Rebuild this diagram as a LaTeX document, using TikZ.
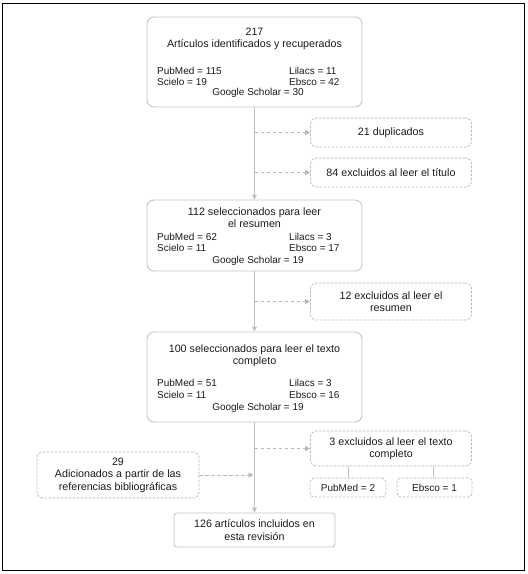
\documentclass[tikz,border=0pt]{standalone}
\usepackage{fontspec}
\setmainfont{Liberation Sans}
\usetikzlibrary{arrows.meta}
\definecolor{boxgray}{HTML}{C4C4C4}
\definecolor{linegray}{HTML}{C0C0C0}
\definecolor{dashgray}{HTML}{B8B8B8}
\definecolor{txt}{HTML}{1A1A1A}
\begin{document}
\begin{tikzpicture}[x=1pt,y=-1pt,
  mainbox/.style={draw=boxgray, line width=0.9pt, rounded corners=7pt, inner sep=0pt},
  finbox/.style={draw=boxgray, line width=0.9pt, rounded corners=3pt, inner sep=0pt, align=center, font=\ttlfont, text=txt},
  sidebox/.style={draw=dashgray, line width=0.8pt, dash pattern=on 2.5pt off 1.5pt, rounded corners=6pt, inner sep=0pt, align=center, font=\ttlfont, text=txt},
  smallbox/.style={draw=dashgray, line width=0.8pt, dash pattern=on 2.5pt off 1.5pt, rounded corners=4pt, inner sep=0pt, align=center, font=\smlfont, text=txt},
  ttl/.style={anchor=base, inner sep=0pt, font=\ttlfont, text=txt},
  lcol/.style={anchor=base west, inner sep=0pt, font=\smlfont, text=txt},
  ccol/.style={anchor=base, inner sep=0pt, font=\smlfont, text=txt},
  mainarrow/.style={draw=linegray, line width=1.3pt, -{Triangle[length=5pt,width=5pt]}},
  dasharrow/.style={draw=dashgray, line width=0.9pt, dash pattern=on 3.5pt off 2.5pt, -{Triangle[length=5pt,width=5pt]}},
  thinline/.style={draw=linegray, line width=0.9pt}
]
\newcommand{\ttlfont}{\fontsize{10.7}{12.5}\selectfont}
\newcommand{\smlfont}{\fontsize{10}{11}\selectfont}
\useasboundingbox (0,0) rectangle (528,574);
\draw[black, line width=1.3pt] (2.5,3.5) rectangle (524.5,570.5);

% box 1
\node[mainbox, minimum width=215pt, minimum height=90pt] (b1) at (254.5,62) {};
\node[ttl] (b1a) at (254.5,35.5) {217};
\node[ttl] (b1b) at (254.5,47) {Artículos identificados y recuperados};
\node[lcol] (b1c) at (157,74.5) {PubMed = 115};
\node[lcol] (b1d) at (289,74.5) {Lilacs = 11};
\node[lcol] (b1e) at (157,85.3) {Scielo = 19};
\node[lcol] (b1f) at (289,85.3) {Ebsco = 42};
\node[ccol] (b1g) at (258,95.8) {Google Scholar = 30};

% side boxes 1,2
\node[sidebox, minimum width=161pt, minimum height=29pt] (d1) at (391,132.5) {21 duplicados};
\node[sidebox, minimum width=161pt, minimum height=29pt] (d2) at (391,172.5) {84 excluidos al leer el título};

% box 2
\node[mainbox, minimum width=215pt, minimum height=71pt] (b2) at (254.5,235.5) {};
\node[ttl] (b2a) at (254.5,215.8) {112 seleccionados para leer};
\node[ttl] (b2b) at (254.5,227.8) {el resumen};
\node[lcol] (b2c) at (157,240.5) {PubMed = 62};
\node[lcol] (b2d) at (289,240.5) {Lilacs = 3};
\node[lcol] (b2e) at (157,251.5) {Scielo = 11};
\node[lcol] (b2f) at (289,251.5) {Ebsco = 17};
\node[ccol] (b2g) at (258,263.3) {Google Scholar = 19};

% side box 3
\node[sidebox, minimum width=161pt, minimum height=37pt] (d3) at (391,301.5) {12 excluidos al leer el\\resumen};

% box 3
\node[mainbox, minimum width=215pt, minimum height=90pt] (b3) at (254.5,377) {};
\node[ttl] (b3a) at (254.5,352.5) {100 seleccionados para leer el texto};
\node[ttl] (b3b) at (254.5,364.5) {completo};
\node[lcol] (b3c) at (157,386.5) {PubMed = 51};
\node[lcol] (b3d) at (289,386.5) {Lilacs = 3};
\node[lcol] (b3e) at (157,398.3) {Scielo = 11};
\node[lcol] (b3f) at (289,398.3) {Ebsco = 16};
\node[ccol] (b3g) at (258,410.3) {Google Scholar = 19};

% side box 4 and its sub boxes
\node[sidebox, minimum width=161pt, minimum height=35pt] (d4) at (391,448.5) {3 excluidos al leer el texto\\completo};
\node[smallbox, minimum width=76pt, minimum height=19pt] (pm) at (348,487.5) {PubMed = 2};
\node[smallbox, minimum width=75pt, minimum height=19pt] (eb) at (434.5,487.5) {Ebsco = 1};

% added box
\node[sidebox, minimum width=162pt, minimum height=46pt] (add) at (118,475) {29\\Adicionados a partir de las\\referencias bibliográficas};

% final box
\node[finbox, minimum width=161pt, minimum height=34pt] (fin) at (254.5,530) {126 artículos incluidos en\\esta revisión};

% junctions on main line
\coordinate (j1) at (254.5,132.5);
\coordinate (j2) at (254.5,172.5);
\coordinate (j3) at (254.5,301.5);
\coordinate (j4) at (254.5,448.5);
\coordinate (j5) at (253.5,475);

% connectors
\draw[mainarrow] (b1.south) -- (b2.north);
\draw[mainarrow] (b2.south) -- (b3.north);
\draw[mainarrow] (b3.south) -- (fin.north);
\draw[dasharrow] (j1) -- (d1.west);
\draw[dasharrow] (j2) -- (d2.west);
\draw[dasharrow] (j3) -- (d3.west);
\draw[dasharrow] (j4) -- (d4.west);
\draw[dasharrow] (add.east) -- (j5);
\draw[thinline] (pm.north) -- (pm.north |- d4.south);
\draw[thinline] (eb.north -| 433,0) -- (d4.south -| 433,0);
\end{tikzpicture}
\end{document}
